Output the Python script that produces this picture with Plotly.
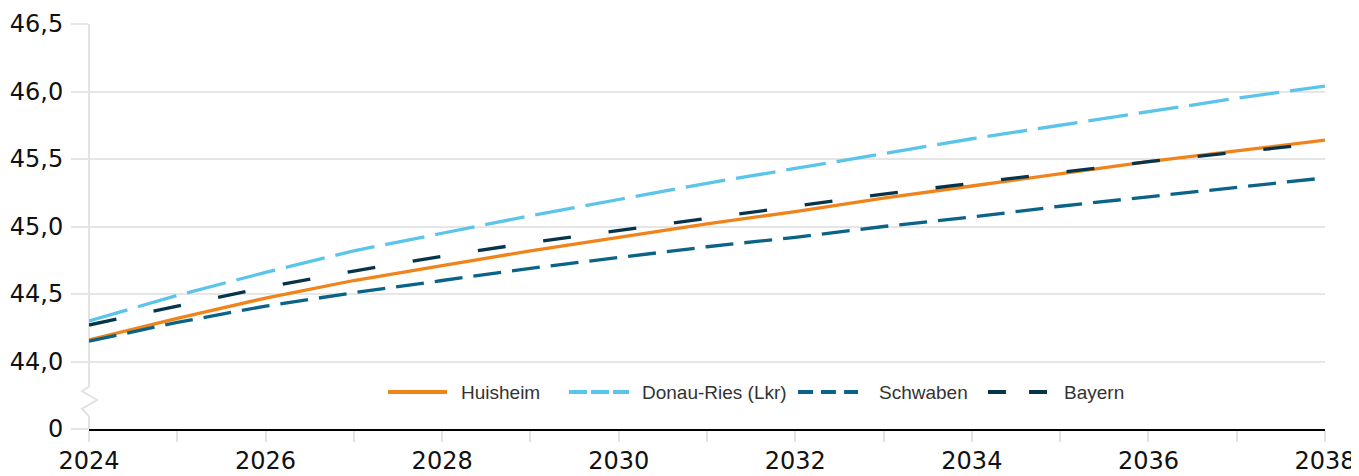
import plotly.graph_objects as go

years = list(range(2024, 2039))
huisheim = [44.16, 44.32, 44.47, 44.60, 44.71, 44.82, 44.92, 45.02, 45.11, 45.21, 45.30, 45.39, 45.48, 45.56, 45.64]
donau_ries = [44.30, 44.49, 44.66, 44.82, 44.95, 45.08, 45.20, 45.32, 45.43, 45.54, 45.65, 45.75, 45.85, 45.95, 46.04]
schwaben = [44.15, 44.29, 44.41, 44.51, 44.60, 44.69, 44.77, 44.85, 44.92, 45.00, 45.07, 45.15, 45.22, 45.29, 45.36]
bayern = [44.27, 44.41, 44.55, 44.67, 44.78, 44.88, 44.97, 45.06, 45.15, 45.24, 45.32, 45.40, 45.48, 45.55, 45.62]

series_names = ["Huisheim", "Donau-Ries (Lkr)", "Schwaben", "Bayern"]
y_tickvals = [43.5, 44.0, 44.5, 45.0, 45.5, 46.0, 46.5]
y_ticktext = ["0", "44,0", "44,5", "45,0", "45,5", "46,0", "46,5"]
x_ticktext = [str(y) if y % 2 == 0 else "" for y in years]

colors = ["#F0841A", "#5BC4EA", "#0B6388", "#06344A"]
line_dashes = ["solid", "40px,11px", "28px,11px", "28px,38px"]
legend_dashes = ["solid", "18px,4px", "15px,8px", "18px,23px"]

# page body has an 8px margin; plot area in screen pixels: x 89..1325, y 24..429
PL, PW, PT, PH = 89, 1236, 24, 405
def px_x(p):
    return (p - PL) / PW
legend_y = (PT + PH - 392) / PH
legend_line_x = [(388, 447), (569, 629), (798, 858), (988, 1047)]
legend_text_x = [459, 640, 877, 1062]

fig = go.Figure()
for name, vals, c, d in zip(series_names, [huisheim, donau_ries, schwaben, bayern], colors, line_dashes):
    fig.add_trace(go.Scatter(
        x=years, y=vals, name=name, mode="lines", showlegend=False,
        line=dict(color=c, dash=d, width=3.3),
    ))

# y-axis line with zigzag break
fig.add_shape(
    type="path", xref="paper", yref="y", xsizemode="pixel", xanchor=0,
    path="M0,46.5 L0,43.815 L-7,43.78 L8,43.715 L-7,43.65 L0,43.593 L0,43.5",
    line=dict(color="#E3E3E3", width=2), layer="below",
)

for name, c, d, (x0, x1), tx in zip(series_names, colors, legend_dashes, legend_line_x, legend_text_x):
    fig.add_shape(
        type="line", xref="paper", yref="paper",
        x0=px_x(x0), x1=px_x(x1), y0=legend_y, y1=legend_y,
        line=dict(color=c, dash=d, width=4),
    )
    fig.add_annotation(
        xref="paper", yref="paper", x=px_x(tx), y=legend_y,
        xanchor="left", yanchor="middle", showarrow=False, text=name,
        font=dict(family="Liberation Sans", size=19, color="#333333"),
    )

fig.update_layout(
    width=1351, height=468,
    margin=dict(l=81, r=34, t=16, b=47, autoexpand=False),
    paper_bgcolor="white", plot_bgcolor="white",
    font=dict(family="DejaVu Sans", color="#111111"),
    showlegend=False,
    xaxis=dict(
        range=[2024, 2038], tickvals=years, ticktext=x_ticktext,
        showgrid=False, zeroline=False, automargin=False,
        showline=True, linecolor="#000000", linewidth=2,
        ticks="outside", ticklen=11, tickcolor="#E3E3E3", tickwidth=2,
        ticklabelstandoff=-2,
        tickfont=dict(size=24, family="DejaVu Sans", color="#111111"),
    ),
    yaxis=dict(
        range=[43.5, 46.5], tickvals=y_tickvals, ticktext=y_ticktext,
        showgrid=True, gridcolor="#E6E6E6", gridwidth=2,
        zeroline=False, showline=False, automargin=False,
        ticks="outside", ticklen=17, tickcolor="#E6E6E6", tickwidth=2,
        ticklabelstandoff=3,
        tickfont=dict(size=24, family="DejaVu Sans", color="#111111"),
    ),
)

fig.write_html("out.html")
